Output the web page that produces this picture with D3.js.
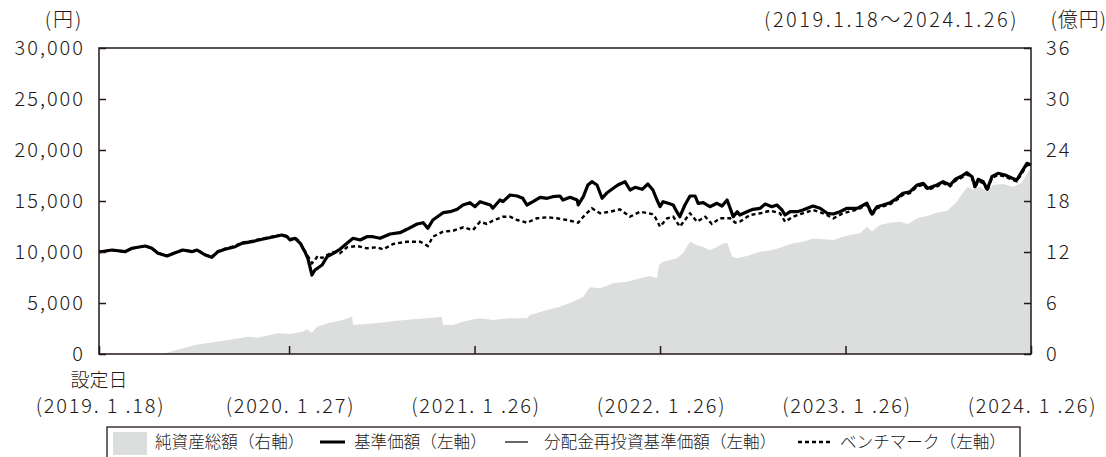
<!DOCTYPE html>
<html><head><meta charset="utf-8">
<script src="https://cdn.jsdelivr.net/npm/d3@7"></script>
<style>
html,body{margin:0;padding:0;background:#fff;}
svg{display:block;font-family:"Noto Sans CJK JP","Noto Sans",sans-serif;font-weight:300;}
</style></head><body>
<svg id="chart" width="1106" height="457"></svg>
<script>
// ---- DATA ----
const navDates = ["2019-01-18","2019-02-13","2019-03-10","2019-03-24","2019-04-19","2019-05-02","2019-05-14","2019-06-01","2019-06-17","2019-07-02","2019-07-20","2019-07-30","2019-08-15","2019-08-28","2019-09-09","2019-09-23","2019-10-13","2019-10-26","2019-11-15","2019-12-05","2019-12-24","2020-01-13","2020-01-23","2020-01-29","2020-02-08","2020-02-18","2020-02-27","2020-03-04","2020-03-12","2020-03-18","2020-04-01","2020-04-11","2020-04-23","2020-05-06","2020-05-20","2020-06-01","2020-06-15","2020-06-28","2020-07-10","2020-07-24","2020-08-13","2020-09-01","2020-09-15","2020-10-05","2020-10-17","2020-10-26","2020-11-05","2020-11-25","2020-12-09","2020-12-23","2021-01-03","2021-01-17","2021-01-27","2021-02-06","2021-02-26","2021-03-03","2021-03-17","2021-03-23","2021-04-06","2021-04-20","2021-05-01","2021-05-09","2021-05-21","2021-06-04","2021-06-18","2021-06-29","2021-07-13","2021-07-19","2021-08-02","2021-08-16","2021-08-18","2021-08-28","2021-09-06","2021-09-14","2021-09-24","2021-10-04","2021-10-14","2021-10-26","2021-11-04","2021-11-18","2021-11-28","2021-12-08","2021-12-22","2022-01-02","2022-01-12","2022-01-20","2022-01-26","2022-02-01","2022-02-11","2022-02-21","2022-02-28","2022-03-06","2022-03-16","2022-03-26","2022-04-05","2022-04-11","2022-04-21","2022-05-04","2022-05-18","2022-05-28","2022-06-07","2022-06-13","2022-06-19","2022-06-27","2022-07-02","2022-07-16","2022-07-28","2022-08-11","2022-08-21","2022-09-03","2022-09-13","2022-09-23","2022-09-29","2022-10-09","2022-10-23","2022-11-03","2022-11-23","2022-12-07","2022-12-21","2023-01-02","2023-01-15","2023-01-29","2023-02-18","2023-03-09","2023-03-19","2023-03-29","2023-04-10","2023-04-24","2023-05-07","2023-05-19","2023-06-02","2023-06-16","2023-06-28","2023-07-07","2023-07-25","2023-08-06","2023-08-20","2023-08-30","2023-09-12","2023-09-22","2023-10-02","2023-10-08","2023-10-14","2023-10-24","2023-11-01","2023-11-10","2023-11-22","2023-12-06","2023-12-20","2023-12-29","2024-01-08","2024-01-18","2024-01-26"];
const navValues = [10000,10196,10030,10363,10588,10363,9873,9608,9932,10196,10030,10196,9706,9480,10030,10265,10520,10853,11010,11245,11441,11667,11500,11177,11343,10853,10030,9382,7745,8235,8726,9539,9873,10265,10853,11343,11177,11500,11500,11343,11765,11892,12226,12745,12873,12324,13137,13853,13951,14186,14608,14833,14441,14931,14608,14284,15098,14931,15588,15490,15265,14608,14931,15363,15265,15422,15490,15098,15363,15098,14608,15422,16569,16892,16569,15265,15814,16245,16569,16892,16079,16343,16147,16667,16079,15098,14441,14931,14775,14608,13951,13461,14608,15490,15490,14775,14833,14441,14775,14510,15098,14284,13461,13951,13628,13951,14186,14284,14706,14441,14608,14118,13628,13951,13951,14118,14510,14284,13794,13726,13951,14284,14284,14775,13726,14441,14608,14833,15265,15755,15912,16569,16735,16245,16569,16892,16569,17128,17451,17775,17383,16402,17128,16892,16147,17383,17716,17549,17226,17059,17873,18696,18530];
// 分配金実績なしのため、分配金再投資基準価額は基準価額と同一
const reinvestValues = navValues;

const benchDates = ["2019-01-18","2019-02-13","2019-03-10","2019-03-24","2019-04-19","2019-05-02","2019-05-14","2019-06-01","2019-06-17","2019-07-02","2019-07-20","2019-07-30","2019-08-15","2019-08-28","2019-09-09","2019-09-23","2019-10-13","2019-10-26","2019-11-15","2019-12-05","2019-12-24","2020-01-13","2020-01-23","2020-01-29","2020-02-08","2020-02-18","2020-02-27","2020-03-04","2020-03-12","2020-03-18","2020-03-23","2020-04-01","2020-04-11","2020-04-23","2020-05-06","2020-05-20","2020-06-09","2020-06-28","2020-07-18","2020-07-30","2020-08-19","2020-09-15","2020-10-11","2020-10-26","2020-11-05","2020-11-25","2020-12-15","2021-01-04","2021-01-17","2021-01-23","2021-02-06","2021-02-19","2021-03-03","2021-03-23","2021-04-06","2021-04-20","2021-05-09","2021-05-29","2021-06-18","2021-07-07","2021-07-27","2021-08-18","2021-08-31","2021-09-14","2021-09-30","2021-10-20","2021-11-08","2021-11-28","2021-12-18","2022-01-10","2022-01-16","2022-01-26","2022-02-09","2022-02-21","2022-03-06","2022-03-26","2022-04-09","2022-04-25","2022-05-08","2022-05-24","2022-06-13","2022-06-23","2022-07-02","2022-07-22","2022-08-11","2022-08-31","2022-09-19","2022-09-29","2022-10-15","2022-11-03","2022-11-23","2022-12-13","2023-01-02","2023-01-21","2023-02-18","2023-03-09","2023-03-19","2023-03-29","2023-04-10","2023-04-24","2023-05-07","2023-05-19","2023-06-02","2023-06-16","2023-06-28","2023-07-07","2023-07-25","2023-08-06","2023-08-20","2023-08-30","2023-09-12","2023-09-22","2023-10-02","2023-10-08","2023-10-14","2023-10-24","2023-11-01","2023-11-10","2023-11-22","2023-12-06","2023-12-20","2023-12-29","2024-01-08","2024-01-18","2024-01-26"];
const benchValues = [10000,10180,10050,10340,10600,10380,9900,9640,9950,10210,10060,10220,9750,9520,10080,10330,10600,10920,11080,11300,11500,11700,11560,11250,11400,10950,10100,9608,8900,9200,9600,9412,9706,10000,9873,10461,10588,10363,10461,10265,10784,11010,11010,10588,11500,11990,12088,12422,12226,12157,12971,12745,13069,13461,13461,13137,12873,13304,13402,13304,13137,12873,13628,14284,13794,13951,14186,13461,13951,13726,13461,12480,13304,13461,12480,13794,12971,13461,12745,13304,13304,12873,12971,13628,13794,14049,13794,12971,13461,13794,14118,13794,13304,13794,14150,14620,13600,14300,14480,14700,15120,15600,15780,16420,16600,16100,16420,16750,16430,16980,17300,17620,17240,16260,16980,16750,16000,17240,17560,17400,17080,16920,17720,18540,18380];

const assetDates = ["2019-01-18","2019-05-20","2019-05-28","2019-07-26","2019-09-29","2019-11-07","2019-11-27","2020-01-05","2020-01-29","2020-02-23","2020-03-02","2020-03-12","2020-03-22","2020-04-16","2020-05-12","2020-05-30","2020-06-01","2020-06-28","2020-07-24","2020-08-26","2020-09-27","2020-10-26","2020-11-23","2020-11-25","2020-12-15","2021-01-03","2021-01-17","2021-02-06","2021-03-03","2021-04-06","2021-05-09","2021-05-15","2021-06-18","2021-07-13","2021-08-08","2021-08-28","2021-09-10","2021-09-30","2021-10-26","2021-11-22","2021-12-18","2022-01-06","2022-01-20","2022-01-24","2022-02-01","2022-02-15","2022-02-28","2022-03-12","2022-03-26","2022-04-09","2022-04-21","2022-05-04","2022-05-18","2022-05-28","2022-06-07","2022-06-17","2022-06-27","2022-07-16","2022-08-11","2022-09-05","2022-09-25","2022-10-15","2022-11-03","2022-11-23","2022-12-13","2023-01-02","2023-01-21","2023-02-04","2023-02-24","2023-03-09","2023-03-19","2023-04-04","2023-04-24","2023-05-13","2023-05-29","2023-06-16","2023-07-05","2023-07-25","2023-08-14","2023-09-02","2023-09-14","2023-09-24","2023-10-04","2023-10-18","2023-11-01","2023-11-12","2023-12-02","2023-12-22","2024-01-08","2024-01-20","2024-01-26"];
const assetValues = [0,0,0.1,1.06,1.65,2.04,1.9,2.43,2.35,2.63,2.9,2.5,3.2,3.68,4.0,4.39,3.41,3.53,3.68,3.92,4.08,4.2,4.39,3.41,3.41,3.8,4.0,4.2,4.0,4.2,4.2,4.59,5.18,5.57,6.15,6.74,7.84,7.73,8.31,8.5,8.9,9.18,8.9,10.47,10.86,11.06,11.26,11.85,13.2,12.8,12.6,12.2,12.6,12.94,13.1,11.45,11.26,11.53,12.04,12.24,12.62,13.02,13.2,13.6,13.5,13.4,13.8,14.0,14.2,14.98,14.4,15.18,15.45,15.57,15.3,15.96,16.24,16.62,16.86,17.92,18.98,19.68,19.3,19.68,19.1,19.88,20.0,19.68,20.15,21.45,21.85];

const leftTicks = [0,5000,10000,15000,20000,25000,30000];
const rightTicks = [0,6,12,18,24,30,36];
const xTickDates = ["2019-01-18","2020-01-27","2021-01-26","2022-01-26","2023-01-26","2024-01-26"];
const xTickLabels = ["(2019. 1 .18)","(2020. 1 .27)","(2021. 1 .26)","(2022. 1 .26)","(2023. 1 .26)","(2024. 1 .26)"];
const legendLabels = ["純資産総額（右軸）","基準価額（左軸）","分配金再投資基準価額（左軸）","ベンチマーク（左軸）"];

// ---- CHART ----
const INK = "#231815";
const FONT = '"Noto Sans CJK JP","Noto Sans",sans-serif';
const L=99, R=1031, T=48, B=354;
const parse = d3.timeParse("%Y-%m-%d");
const x = d3.scaleTime().domain([parse("2019-01-18"), parse("2024-01-26")]).range([L, R]);
const yL = d3.scaleLinear().domain([0, 30000]).range([B, T]);
const yR = d3.scaleLinear().domain([0, 36]).range([B, T]);
const svg = d3.select("#chart");

const assets = assetDates.map((d,i)=>({d:parse(d), v:assetValues[i]}));
const nav = navDates.map((d,i)=>({d:parse(d), v:navValues[i]}));
const reinv = navDates.map((d,i)=>({d:parse(d), v:reinvestValues[i]}));
const bench = benchDates.map((d,i)=>({d:parse(d), v:benchValues[i]}));

svg.append("path").datum(assets)
  .attr("d", d3.area().x(d=>x(d.d)).y0(yR(0)).y1(d=>yR(d.v)))
  .attr("fill", "#dcdddd");

const lineL = d3.line().x(d=>x(d.d)).y(d=>yL(d.v));
svg.append("path").datum(bench).attr("d", lineL).attr("fill","none")
  .attr("stroke", "#000").attr("stroke-width", 2.4).attr("stroke-dasharray","4,3");
svg.append("path").datum(nav).attr("d", lineL).attr("fill","none")
  .attr("stroke", "#000").attr("stroke-width", 3.2).attr("stroke-linejoin","round");
svg.append("path").datum(reinv).attr("d", lineL).attr("fill","none")
  .attr("stroke", "#000").attr("stroke-width", 1);

// frame
svg.append("rect").attr("x", L).attr("y", T).attr("width", R-L).attr("height", B-T)
  .attr("fill","none").attr("stroke", INK).attr("stroke-width", 1.5);

function styleAxis(g, fs, ls){
  g.select(".domain").remove();
  g.selectAll(".tick line").attr("stroke", INK).attr("stroke-width", 1.5);
  g.selectAll(".tick text").attr("fill", INK).style("font-size", fs+"px")
    .style("font-family", FONT).style("font-weight", 300).style("letter-spacing", ls+"px");
}
svg.append("g").attr("transform", `translate(${L},0)`)
  .call(d3.axisLeft(yL).tickValues(leftTicks).tickFormat(d3.format(",")).tickSize(-7).tickPadding(14))
  .call(g=>styleAxis(g, 20, 2));
svg.append("g").attr("transform", `translate(${R},0)`)
  .call(d3.axisRight(yR).tickValues(rightTicks).tickFormat(d3.format("d")).tickSize(-7).tickPadding(15))
  .call(g=>styleAxis(g, 20, 2));
const xg = svg.append("g").attr("transform", `translate(0,${B})`)
  .call(d3.axisBottom(x).tickValues(xTickDates.map(parse)).tickFormat((d,i)=>xTickLabels[i]).tickSize(-8).tickPadding(0))
  .call(g=>styleAxis(g, 20, 1.8));
xg.selectAll(".tick text").attr("y", 59).attr("dy", null).attr("dx", 1);

svg.append("text").attr("x", x(parse(xTickDates[0]))).attr("y", 387)
  .attr("text-anchor","middle").attr("fill", INK).style("font-size","19px").text("設定日");

// header texts
svg.append("text").attr("x", 64).attr("y", 27).attr("text-anchor","middle").attr("fill", INK)
  .style("font-size","20px").style("letter-spacing","2px").text("(円)");
svg.append("text").attr("x", 1019).attr("y", 27).attr("text-anchor","end").attr("fill", INK)
  .style("font-size","20px").style("letter-spacing","2.5px").text("(2019.1.18～2024.1.26)");
svg.append("text").attr("x", 1107).attr("y", 27).attr("text-anchor","end").attr("fill", INK)
  .style("font-size","20px").style("letter-spacing","1px").text("(億円)");

// legend
const lg = svg.append("g");
lg.append("rect").attr("x", 107).attr("y", 427).attr("width", 913).attr("height", 40)
  .attr("fill","#fff").attr("stroke", INK).attr("stroke-width", 1.3);
lg.append("rect").attr("x", 113).attr("y", 432).attr("width", 34).attr("height", 23).attr("fill", "#dcdddd");
const ly = 442;
lg.append("line").attr("x1",320).attr("x2",345).attr("y1",ly).attr("y2",ly).attr("stroke","#000").attr("stroke-width",3);
lg.append("line").attr("x1",505).attr("x2",528).attr("y1",ly).attr("y2",ly).attr("stroke","#000").attr("stroke-width",1.2);
lg.append("line").attr("x1",798).attr("x2",830).attr("y1",ly).attr("y2",ly).attr("stroke","#000").attr("stroke-width",2.4).attr("stroke-dasharray","4,3");
const lx = [155, 354, 544, 840];
legendLabels.forEach((t,i)=>{
  lg.append("text").attr("x", lx[i]).attr("y", 448).attr("fill", INK).style("font-size","16.6px").text(t);
});
</script>
</body></html>
